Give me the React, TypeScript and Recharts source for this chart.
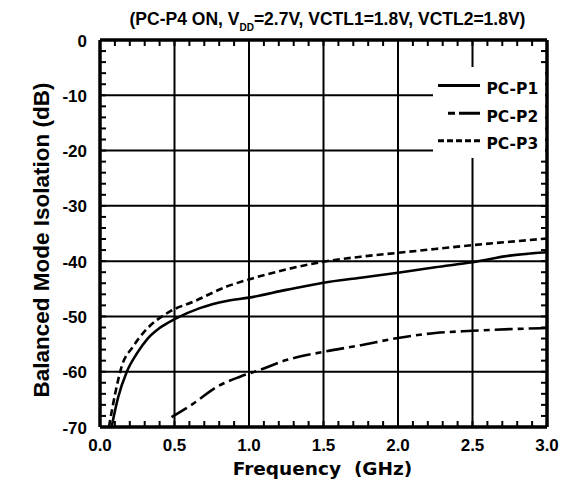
import React from 'react'
import { LineChart, Line, XAxis, YAxis, ReferenceLine, Legend } from 'recharts'

// Balanced mode isolation vs frequency
const p1Freq = [0.078, 0.12, 0.18, 0.25, 0.32, 0.4, 0.5, 0.67, 0.85, 1.0, 1.25, 1.5, 1.75, 2.0, 2.25, 2.5, 2.75, 3.0]
const p1Iso = [-70, -64.8, -60, -56.6, -54, -52.1, -50.5, -48.5, -47.2, -46.6, -45.2, -43.9, -43, -42.1, -41.1, -40.2, -39, -38.4]

const p2Freq = [0.48, 0.63, 0.78, 0.94, 1.07, 1.25, 1.5, 1.75, 2.0, 2.25, 2.5, 2.75, 3.0]
const p2Iso = [-68.2, -65.7, -62.8, -60.9, -59.7, -57.9, -56.4, -55.2, -53.9, -53.0, -52.6, -52.3, -52.1]

const p3Freq = [0.06, 0.1, 0.146, 0.22, 0.31, 0.47, 0.63, 0.85, 1.0, 1.25, 1.5, 1.75, 2.0, 2.25, 2.5, 2.75, 3.0]
const p3Iso = [-70, -64.2, -59, -55.5, -52.4, -49.1, -47.3, -44.6, -43.3, -41.5, -40.1, -39.2, -38.5, -37.8, -37.1, -36.5, -35.9]

const xMajor = [0, 0.5, 1.0, 1.5, 2.0, 2.5, 3.0]
const yMajor = [-70, -60, -50, -40, -30, -20, -10, 0]
const xTicks = Array.from({ length: 31 }, (_, i) => i / 10)
const yTicks = Array.from({ length: 36 }, (_, i) => -70 + 2 * i)

const series = [
  { name: 'PC-P1', freq: p1Freq, iso: p1Iso, dash: undefined as string | undefined, legendDash: undefined as string | undefined },
  { name: 'PC-P2', freq: p2Freq, iso: p2Iso, dash: '18 5 6 5', legendDash: '0 10 7 4 21 10' },
  { name: 'PC-P3', freq: p3Freq, iso: p3Iso, dash: '7 4', legendDash: '6 3' },
]

const W = 567
const H = 486
const TOP = 40
const BOTTOM = 427
const LEFT = 100
const RIGHT = 547
const ARIAL = '"Liberation Sans", Arial, sans-serif'
const WIDE = '"DejaVu Sans", Verdana, sans-serif'

const XTick = (props: any) => {
  const { x, payload } = props
  const v = payload.value
  const major = Math.round(v * 10) % 5 === 0
  return (
    <g>
      <line x1={x} x2={x} y1={BOTTOM} y2={BOTTOM - 6} stroke="#000" strokeWidth={2} />
      <line x1={x} x2={x} y1={TOP} y2={TOP + 6} stroke="#000" strokeWidth={2} />
      {major && (
        <text x={x} y={451} textAnchor="middle" fontSize={17} fontWeight="bold" fontFamily={ARIAL} fill="#000">
          {v.toFixed(1)}
        </text>
      )}
    </g>
  )
}

const YTick = (props: any) => {
  const { y, payload } = props
  const v = payload.value
  const major = v % 10 === 0
  return (
    <g>
      <line x1={LEFT} x2={LEFT + 6} y1={y} y2={y} stroke="#000" strokeWidth={2} />
      <line x1={RIGHT} x2={RIGHT - 6} y1={y} y2={y} stroke="#000" strokeWidth={2} />
      {major && (
        <text x={87} y={y + 6.5} textAnchor="end" fontSize={17} fontWeight="bold" fontFamily={ARIAL} fill="#000">
          {v}
        </text>
      )}
    </g>
  )
}

const LegendBox = () => (
  <svg width={112} height={91} style={{ display: 'block', background: '#fff' }}>
    {series.map((s, i) => {
      const ly = [18.5, 46.3, 73.7][i]
      return (
        <g key={s.name}>
          <line x1={5} x2={47} y1={ly} y2={ly} stroke="#000" strokeWidth={3} strokeDasharray={s.legendDash} />
          <text x={53.5} y={ly + 8.5} fontSize={15.5} fontWeight="bold" fontFamily={WIDE} fill="#000">
            {s.name}
          </text>
        </g>
      )
    })}
  </svg>
)

export default function App() {
  return (
    <div style={{ position: 'absolute', left: 0, top: 0, width: W, height: H, background: '#fff' }}>
      <LineChart width={W} height={H} margin={{ top: TOP, right: W - RIGHT, bottom: 29, left: 40 }}>
        <XAxis
          type="number"
          dataKey="f"
          domain={[0, 3]}
          ticks={xTicks}
          interval={0}
          tick={<XTick />}
          tickLine={false}
          axisLine={false}
          height={30}
          allowDuplicatedCategory={false}
        />
        <YAxis
          type="number"
          domain={[-70, 0]}
          ticks={yTicks}
          interval={0}
          tick={<YTick />}
          tickLine={false}
          axisLine={false}
          width={60}
        />
        {xMajor.map((v) => (
          <ReferenceLine key={'x' + v} x={v} stroke="#000" strokeWidth={v === 0 || v === 3 ? 3.5 : 2} />
        ))}
        {yMajor.map((v) => (
          <ReferenceLine key={'y' + v} y={v} stroke="#000" strokeWidth={v === 0 || v === -70 ? 3.5 : 2} />
        ))}
        {series.map((s) => (
          <Line
            key={s.name}
            name={s.name}
            data={s.freq.map((f, i) => ({ f, v: s.iso[i] }))}
            dataKey="v"
            type="monotone"
            stroke="#000"
            strokeWidth={2.6}
            strokeDasharray={s.dash}
            dot={false}
            isAnimationActive={false}
          />
        ))}
        <Legend
          content={<LegendBox />}
          layout="horizontal"
          verticalAlign="middle"
          align="center"
          wrapperStyle={{ position: 'absolute', left: 433, top: 67, right: 'auto', bottom: 'auto', width: 112, height: 91 }}
        />
      </LineChart>
      <svg width={W} height={H} style={{ position: 'absolute', left: 0, top: 0, pointerEvents: 'none' }}>
        <text x={327.5} y={25} textAnchor="middle" fontSize={17.5} fontWeight="bold" fontFamily={ARIAL} fill="#000">
          (PC-P4 ON, V
          <tspan fontSize={10} dy={6}>DD</tspan>
          <tspan dy={-6}>=2.7V, VCTL1=1.8V, VCTL2=1.8V)</tspan>
        </text>
        <text x={322.5} y={475} textAnchor="middle" fontSize={18.5} fontWeight="bold" fontFamily={WIDE} fill="#000" xmlSpace="preserve">
          Frequency  (GHz)
        </text>
        <text
          x={0}
          y={0}
          transform="translate(49 240) rotate(-90)"
          textAnchor="middle"
          fontSize={22.5}
          fontWeight="bold"
          fontFamily={ARIAL}
          fill="#000"
        >
          Balanced Mode Isolation (dB)
        </text>
      </svg>
    </div>
  )
}
